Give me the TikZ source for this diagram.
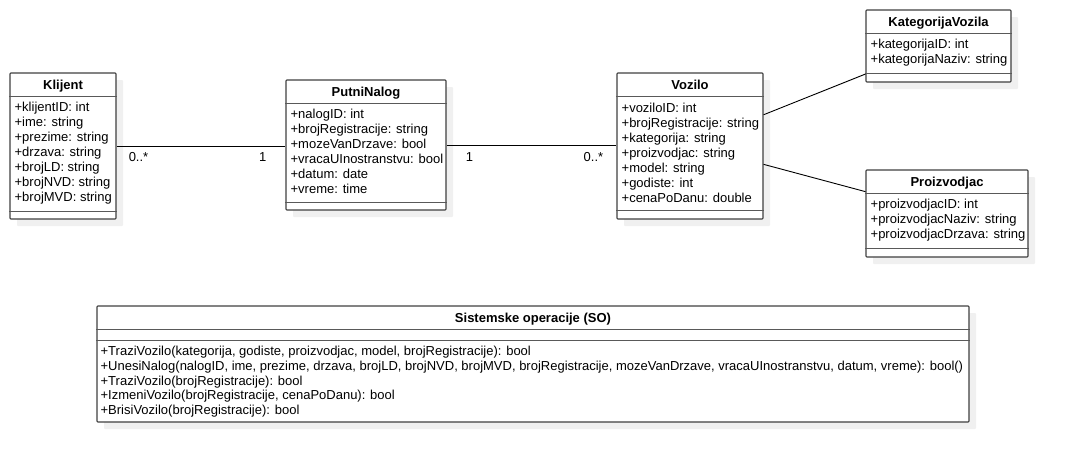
\documentclass[tikz,border=0pt]{standalone}
\usepackage{fontspec}
\setmainfont{Liberation Sans}
\usetikzlibrary{shadows}
\tikzset{
  classbox/.style={draw=black!75, line width=1.1pt, fill=white, rounded corners=0.8pt, inner sep=0pt,
    drop shadow={shadow xshift=7pt, shadow yshift=-7pt, fill=black!6, opacity=1}},
  sepline/.style={draw=black!65, line width=1.1pt},
  classname/.style={font=\bfseries\fontsize{13}{15}\selectfont, anchor=base, inner sep=0pt},
  % base anchor of a member list = baseline of its last line
  members/.style={font=\fontsize{13}{15}\selectfont, align=left, anchor=base west, inner sep=0pt},
  mult/.style={font=\fontsize{13}{15}\selectfont, inner sep=0pt},
  assoc/.style={draw=black, line width=0.9pt}
}
\begin{document}
\begin{tikzpicture}[x=1pt, y=-1pt]
\useasboundingbox (0,0) rectangle (1068,463);
% Klijent
\node[classbox, minimum width=106pt, minimum height=146pt] (klijent) at (63,146) {};
\draw[sepline] ([yshift=-24pt]klijent.north west) -- ([yshift=-24pt]klijent.north east);
\draw[sepline] ([yshift=8pt]klijent.south west) -- ([yshift=8pt]klijent.south east);
\node[classname] (klijent name) at ([yshift=-17.5pt]klijent.north) {Klijent};
\node[members] (klijent attr) at ([xshift=5pt,yshift=-129.5pt]klijent.north west)
  {+klijentID: int\\+ime: string\\+prezime: string\\+drzava: string\\+brojLD: string\\+brojNVD: string\\+brojMVD: string};
% PutniNalog
\node[classbox, minimum width=160pt, minimum height=130pt] (putni) at (366,145) {};
\draw[sepline] ([yshift=-24pt]putni.north west) -- ([yshift=-24pt]putni.north east);
\draw[sepline] ([yshift=8pt]putni.south west) -- ([yshift=8pt]putni.south east);
\node[classname] (putni name) at ([yshift=-17.5pt]putni.north) {PutniNalog};
\node[members] (putni attr) at ([xshift=5pt,yshift=-114pt]putni.north west)
  {+nalogID: int\\+brojRegistracije: string\\+mozeVanDrzave: bool\\+vracaUInostranstvu: bool\\+datum: date\\+vreme: time};
% Vozilo
\node[classbox, minimum width=146pt, minimum height=146pt] (vozilo) at (690,146) {};
\draw[sepline] ([yshift=-24pt]vozilo.north west) -- ([yshift=-24pt]vozilo.north east);
\draw[sepline] ([yshift=9pt]vozilo.south west) -- ([yshift=9pt]vozilo.south east);
\node[classname] (vozilo name) at ([yshift=-17.5pt]vozilo.north) {Vozilo};
\node[members] (vozilo attr) at ([xshift=5pt,yshift=-130pt]vozilo.north west)
  {+voziloID: int\\+brojRegistracije: string\\+kategorija: string\\+proizvodjac: string\\+model: string\\+godiste: int\\+cenaPoDanu: double};
% KategorijaVozila
\node[classbox, minimum width=145pt, minimum height=72pt] (kategorija) at (938.5,46) {};
\draw[sepline] ([yshift=-24pt]kategorija.north west) -- ([yshift=-24pt]kategorija.north east);
\draw[sepline] ([yshift=9pt]kategorija.south west) -- ([yshift=9pt]kategorija.south east);
\node[classname] (kategorija name) at ([yshift=-17.5pt]kategorija.north) {KategorijaVozila};
\node[members] (kategorija attr) at ([xshift=5pt,yshift=-54.5pt]kategorija.north west)
  {+kategorijaID: int\\+kategorijaNaziv: string};
% Proizvodjac
\node[classbox, minimum width=162pt, minimum height=87pt] (proizvodjac) at (947,213.5) {};
\draw[sepline] ([yshift=-24pt]proizvodjac.north west) -- ([yshift=-24pt]proizvodjac.north east);
\draw[sepline] ([yshift=9pt]proizvodjac.south west) -- ([yshift=9pt]proizvodjac.south east);
\node[classname] (proizvodjac name) at ([yshift=-17.5pt]proizvodjac.north) {Proizvodjac};
\node[members] (proizvodjac attr) at ([xshift=5pt,yshift=-69.5pt]proizvodjac.north west)
  {+proizvodjacID: int\\+proizvodjacNaziv: string\\+proizvodjacDrzava: string};
% Sistemske operacije
\node[classbox, minimum width=872pt, minimum height=116pt] (so) at (533,364) {};
\draw[sepline] ([yshift=-24pt]so.north west) -- ([yshift=-24pt]so.north east);
\draw[sepline] ([yshift=-35pt]so.north west) -- ([yshift=-35pt]so.north east);
\node[classname] (so name) at ([yshift=-17pt]so.north) {Sistemske operacije (SO)};
\node[members, font=\fontsize{13}{14.6}\selectfont] (so ops) at ([xshift=4pt,yshift=-108.9pt]so.north west)
  {+TraziVozilo(kategorija, godiste, proizvodjac, model, brojRegistracije): bool\\
   +UnesiNalog(nalogID, ime, prezime, drzava, brojLD, brojNVD, brojMVD, brojRegistracije, mozeVanDrzave, vracaUInostranstvu, datum, vreme): bool()\\
   +TraziVozilo(brojRegistracije): bool\\
   +IzmeniVozilo(brojRegistracije, cenaPoDanu): bool\\
   +BrisiVozilo(brojRegistracije): bool};
% associations
\draw[assoc] (klijent.east) -- (klijent.east -| putni.west);
\draw[assoc] (putni.east) -- (putni.east -| vozilo.west);
\draw[assoc] (vozilo.23) -- (kategorija.201);
\draw[assoc] (vozilo.346) -- (proizvodjac.165);
\node[mult, anchor=west] (m klijent) at ([xshift=12pt,yshift=-11pt]klijent.east) {0..*};
\node[mult, anchor=east] (m putni left) at ([xshift=-19pt,yshift=-12pt]putni.west) {1};
\node[mult, anchor=west] (m putni right) at ([xshift=19pt,yshift=-12pt]putni.east) {1};
\node[mult, anchor=east] (m vozilo) at ([xshift=-13pt,yshift=-11pt]vozilo.west) {0..*};
\end{tikzpicture}
\end{document}
